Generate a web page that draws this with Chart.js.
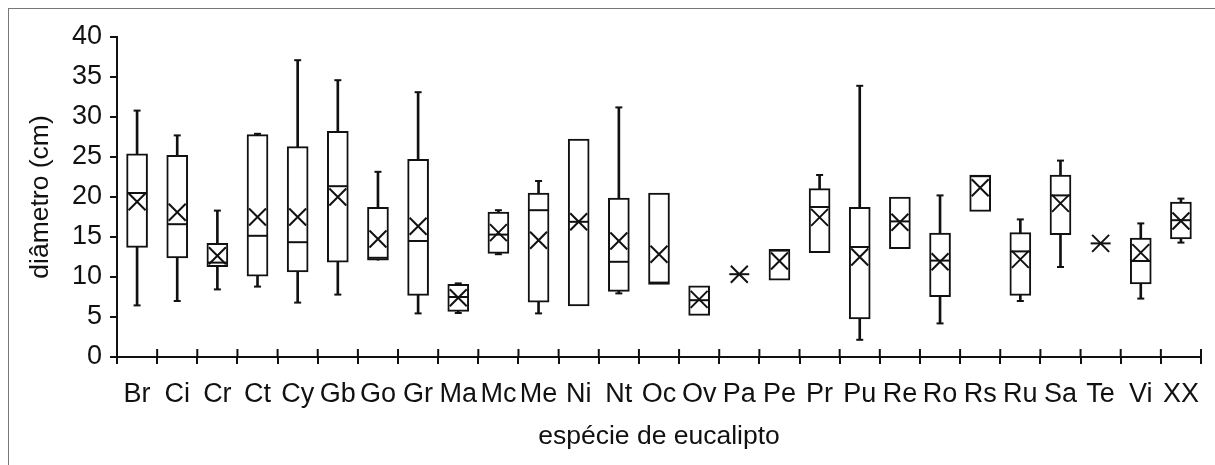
<!DOCTYPE html>
<html>
<head>
<meta charset="utf-8">
<script src="https://cdn.jsdelivr.net/npm/chart.js@4"></script>
<style>
  body { margin: 0; background: #fff; }
  #wrap { position: relative; width: 1215px; height: 465px; overflow: hidden; }
  #frame { position: absolute; left: 8px; top: 8px; width: 1300px; height: 600px;
           border-left: 1px solid #777; border-top: 1px solid #777; }
  #chart { position: absolute; left: 0; top: 0; }
</style>
</head>
<body>
<div id="wrap">
  <div id="frame"></div>
  <canvas id="chart" width="1215" height="465"></canvas>
</div>
<script>
const categories = ["Br", "Ci", "Cr", "Ct", "Cy", "Gb", "Go", "Gr", "Ma", "Mc", "Me", "Ni", "Nt", "Oc",
                    "Ov", "Pa", "Pe", "Pr", "Pu", "Re", "Ro", "Rs", "Ru", "Sa", "Te", "Vi", "XX"];
// whisker ends, quartiles, median and mean (cm)
const whiskerLow  = [6.45, 7.0, 8.45, 8.8, 6.8, 7.8, null, 5.45, 5.5, 12.85, 5.45, null, 7.95, null,
                     null, null, null, null, 2.15, null, 4.2, null, 7.0, 11.25, null, 7.3, 14.3];
const boxLow      = [13.7, 12.4, 11.3, 10.1, 10.65, 11.85, 12.1, 7.7, 5.7, 12.95, 6.85, 6.4, 8.2, 9.07,
                     5.2, null, 9.6, 13.05, 4.75, 13.55, 7.55, 18.2, 7.7, 15.3, null, 9.15, 14.75];
const medians     = [20.5, 16.6, 11.8, 15.15, 14.35, 21.35, 12.4, 14.5, 7.5, 15.3, 18.35, 16.9, 11.9, 9.3,
                     7.1, 10.35, 13.3, 18.75, 13.75, 16.95, 12.05, 22.6, 13.2, 20.2, 14.2, 12.0, 17.1];
const boxHigh     = [25.4, 25.2, 14.2, 27.8, 26.3, 28.2, 18.7, 24.7, 9.07, 18.1, 20.5, 27.25, 19.85, 20.5,
                     8.9, null, 13.45, 21.05, 18.7, 20.0, 15.5, 22.75, 15.55, 22.75, null, 14.85, 19.35];
const whiskerHigh = [30.8, 27.7, 18.3, 27.9, 37.1, 34.6, 23.15, 33.1, 9.2, 18.35, 22.0, null, 31.2, null,
                     null, null, null, 22.75, 33.9, null, 20.2, null, 17.2, 24.55, null, 16.7, 19.8];
const means       = [19.4, 18.1, 12.65, 17.5, 17.5, 20.0, 14.75, 16.35, 7.4, 15.55, 14.6, 16.9, 14.5, 12.85,
                     7.2, 10.35, 12.0, 17.45, 12.5, 16.85, 11.9, 21.15, 12.2, 19.2, 14.2, 13.05, 17.0];

const ink = "#111";
const fontName = "'Liberation Sans', Arial, sans-serif";

var whiskers = categories.map(function (c, i) {
    if (whiskerLow[i] === null && whiskerHigh[i] === null) return null;
    var lo = whiskerLow[i] !== null ? whiskerLow[i] : boxLow[i];
    var hi = whiskerHigh[i] !== null ? whiskerHigh[i] : boxHigh[i];
    return [lo, hi];
});
var boxes = categories.map(function (c, i) {
    return boxLow[i] === null ? null : [boxLow[i], boxHigh[i]];
});

function marks(data, style, radius, order) {
    return {
        type: "line",
        data: data,
        showLine: false,
        pointStyle: style,
        pointRadius: radius,
        pointHoverRadius: radius,
        pointBorderColor: ink,
        pointBackgroundColor: ink,
        pointBorderWidth: 2,
        order: order,
        clip: false,
    };
}

// tick marks that cross the category axis (the library only draws them outside)
var crossTicks = {
    id: "crossTicks",
    afterDraw: function (chart) {
        var x = chart.scales.x, c = chart.ctx, y0 = chart.chartArea.bottom;
        c.save();
        c.strokeStyle = ink;
        c.lineWidth = 2;
        for (var i = 0; i <= categories.length; i++) {
            var px = x.getPixelForValue(i - 0.5);
            c.beginPath();
            c.moveTo(px, y0 - 8);
            c.lineTo(px, y0);
            c.stroke();
        }
        c.restore();
    },
};

var ctx = document.getElementById("chart").getContext("2d");
var myChart = new Chart(ctx, {
    type: "bar",
    data: {
        labels: categories,
        datasets: [
            {
                data: whiskers,
                backgroundColor: ink,
                barThickness: 2,
                grouped: false,
                borderWidth: 0,
                order: 5,
            },
            {
                data: boxes,
                backgroundColor: "#fff",
                borderColor: ink,
                borderWidth: 2,
                borderSkipped: false,
                barThickness: 21,
                grouped: false,
                order: 4,
            },
            marks(whiskerHigh, "line", 3.5, 3),
            marks(whiskerLow, "line", 3.5, 3),
            marks(medians, "line", 10, 2),
            marks(means, "crossRot", 12, 1),
        ],
    },
    plugins: [crossTicks],
    options: {
        responsive: false,
        animation: false,
        events: [],
        layout: { padding: { top: 37, right: 14, left: 0, bottom: 0 } },
        plugins: { legend: { display: false }, tooltip: { enabled: false } },
        scales: {
            x: {
                offset: true,
                grid: { offset: true, drawOnChartArea: false, color: ink, lineWidth: 2, tickLength: 7 },
                border: { color: ink, width: 2 },
                ticks: { autoSkip: false, maxRotation: 0, color: ink, padding: 14,
                         font: { family: fontName, size: 27 } },
                title: { display: true, text: "espécie de eucalipto", color: ink,
                         font: { family: fontName, size: 26.5, lineHeight: 1.2 },
                         padding: { top: 0, bottom: 12 } },
                afterFit: function (scale) { scale.height = 108; },
            },
            y: {
                min: 0,
                max: 40,
                ticks: { stepSize: 5, color: ink, padding: 8,
                         font: { family: fontName, size: 27 } },
                grid: { drawOnChartArea: false, color: ink, lineWidth: 2, tickLength: 7 },
                border: { color: ink, width: 2 },
                title: { display: true, text: "diâmetro (cm)", color: ink,
                         font: { family: fontName, size: 26.5, lineHeight: 1.2 },
                         padding: { top: 25, bottom: 0 } },
                afterFit: function (scale) { scale.width = 117; },
            },
        },
    },
});
</script>
</body>
</html>
